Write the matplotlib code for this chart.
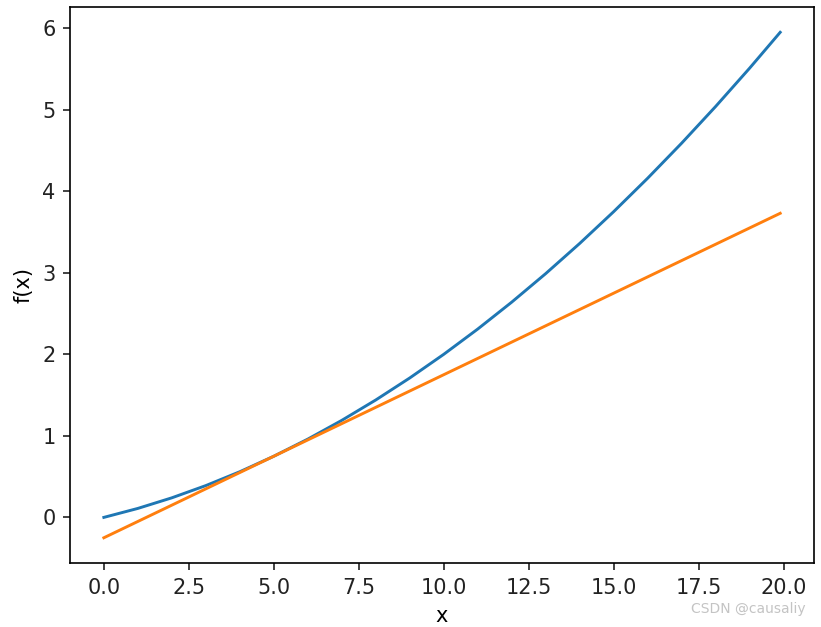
import numpy as np
import matplotlib.pyplot as plt

# curve values
x = [0, 1, 2, 3, 4, 5, 6, 7, 8, 9, 10, 11, 12, 13, 14, 15, 16, 17, 18, 19, 19.9]
fx = [0.0, 0.11, 0.24, 0.39, 0.56, 0.75, 0.96, 1.19, 1.44, 1.71, 2.0,
      2.31, 2.64, 2.99, 3.36, 3.75, 4.16, 4.59, 5.04, 5.51, 5.95]

# tangent line endpoints
tan_x = [0, 19.9]
tan_y = [-0.25, 3.73]

# the screenshot is a default figure scaled up by about 1.5
scale = 1.5
plt.rcParams['font.size'] = 10 * scale
plt.rcParams['text.color'] = '#222222'
plt.rcParams['xtick.color'] = '#222222'
plt.rcParams['ytick.color'] = '#222222'

fig = plt.figure(figsize=(8.21, 6.27), dpi=100)
ax = fig.add_axes([0.0853, 0.102, 0.9062, 0.8868])
ax.plot(x, fx, color='#1f77b4', linewidth=1.4 * scale)
ax.plot(tan_x, tan_y, color='#ff7f0e', linewidth=1.4 * scale)
ax.set_xlabel('x', labelpad=4 * scale)
ax.set_ylabel('f(x)', labelpad=4 * scale)
for s in ax.spines.values():
    s.set_linewidth(0.8 * scale)
ax.tick_params(width=0.8 * scale, length=3.5 * scale, pad=3.5 * scale)

fig.text(0.981, 0.017, 'CSDN @causaliy', ha='right', va='bottom',
         fontsize=10, color='#c4c4c4')

fig.savefig('out.png', dpi=100)
